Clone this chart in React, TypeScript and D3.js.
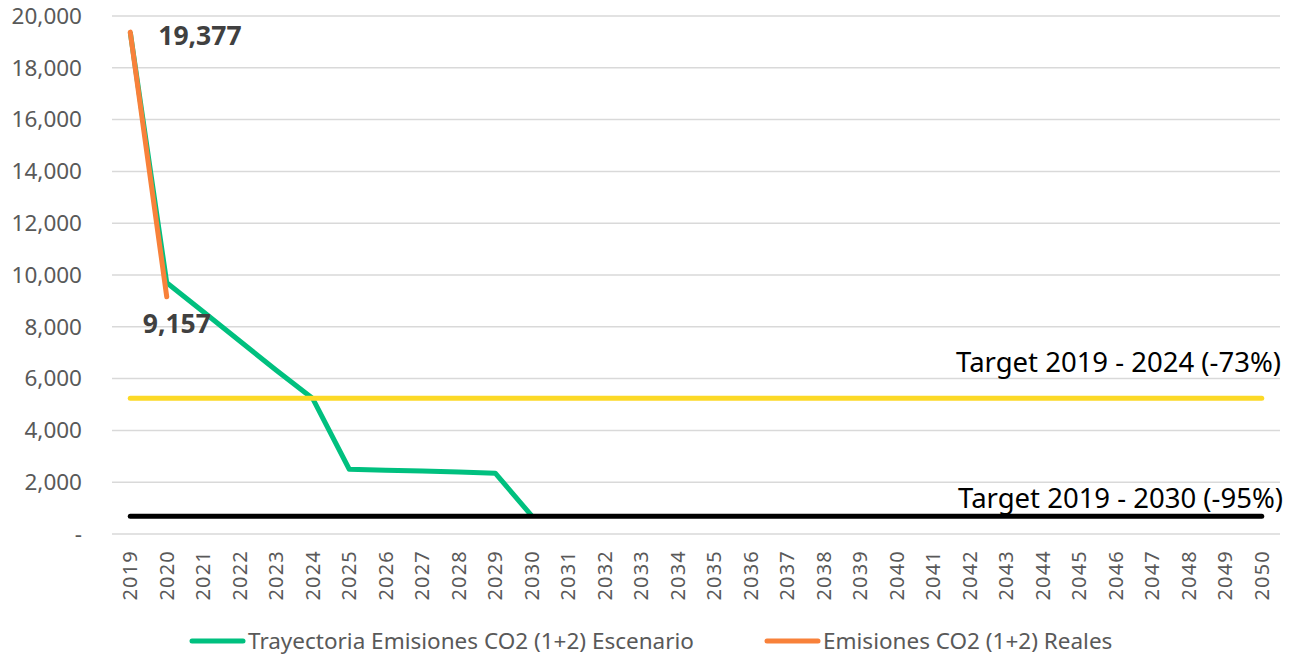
import React from 'react';
import * as d3 from 'd3';

const years = d3.range(2019, 2051).map(String);
const yTicks = [0, 2000, 4000, 6000, 8000, 10000, 12000, 14000, 16000, 18000, 20000];

// scenario trajectory (green)
const scenarioYears = ['2019', '2020', '2021', '2022', '2023', '2024', '2025', '2026', '2027', '2028', '2029', '2030'];
const scenarioValues = [19377, 9700, 8580, 7450, 6320, 5230, 2500, 2460, 2430, 2390, 2350, 700];

// real emissions (orange)
const realYears = ['2019', '2020'];
const realValues = [19377, 9157];

// targets
const target2024 = 5240;
const target2030 = 690;
const targetLabels = ['Target 2019 - 2024 (-73%)', 'Target 2019 - 2030 (-95%)'];

const legendLabels = ['Trayectoria Emisiones CO2 (1+2) Escenario', 'Emisiones CO2 (1+2) Reales'];

const GREEN = '#00c07f';
const ORANGE = '#f8813a';
const YELLOW = '#fcd926';
const FONT = '"Noto Sans", "Open Sans", sans-serif';

export default function App() {
  const width = 1296;
  const height = 656;
  const margin = { top: 16, right: 16, bottom: 122, left: 112 };
  const plotW = width - margin.left - margin.right;

  const x = d3.scaleBand().domain(years).range([margin.left, margin.left + plotW]);
  const cx = (d: string) => (x(d) as number) + x.bandwidth() / 2;
  const y = d3.scaleLinear().domain([0, 20000]).range([534, 16]);

  const line = d3.line<[string, number]>().x(d => cx(d[0])).y(d => y(d[1]));
  const scenario = scenarioYears.map((d, i) => [d, scenarioValues[i]] as [string, number]);
  const real = realYears.map((d, i) => [d, realValues[i]] as [string, number]);
  const fmt = d3.format(',');

  const x0 = cx(years[0]);
  const x1 = cx(years[years.length - 1]);

  return (
    <svg width={width} height={height} style={{ position: 'absolute', left: 0, top: 0, background: '#fff' }} fontFamily={FONT}>
      {yTicks.map(t => (
        <g key={t}>
          <line x1={margin.left} x2={margin.left + plotW} y1={y(t)} y2={y(t)} stroke="#d9d9d9" strokeWidth={1.5} />
          <text x={82} y={y(t)} dy="0.35em" textAnchor="end" fontSize={22.5} fill="#595959">
            {t === 0 ? '-' : fmt(t)}
          </text>
        </g>
      ))}
      {years.map(yr => (
        <text key={yr} transform={`translate(${cx(yr)},550) rotate(-90)`} dy="0.35em" textAnchor="end"
          fontSize={20} letterSpacing={1.2} fill="#595959">{yr}</text>
      ))}

      <path d={line(scenario) as string} fill="none" stroke={GREEN} strokeWidth={5} strokeLinejoin="round" />
      <line x1={x0} x2={x1} y1={y(target2024)} y2={y(target2024)} stroke={YELLOW} strokeWidth={5} strokeLinecap="round" />
      <line x1={x0} x2={x1} y1={y(target2030)} y2={y(target2030)} stroke="#000" strokeWidth={5} strokeLinecap="round" />
      <path d={line(real) as string} fill="none" stroke={ORANGE} strokeWidth={5} strokeLinecap="round" strokeLinejoin="round" />

      <text x={cx(realYears[0]) + 28} y={y(realValues[0]) + 13} fontSize={26.5} fontWeight="bold" fill="#404040">{fmt(realValues[0])}</text>
      <text x={cx(realYears[1]) - 24} y={y(realValues[1]) + 36} fontSize={26.5} fontWeight="bold" fill="#404040">{fmt(realValues[1])}</text>

      <text x={1281} y={y(target2024) - 26} textAnchor="end" fontSize={27.5} fill="#000">{targetLabels[0]}</text>
      <text x={1283} y={y(target2030) - 8} textAnchor="end" fontSize={27.5} fill="#000">{targetLabels[1]}</text>

      <g>
        <line x1={192} x2={243} y1={641} y2={641} stroke={GREEN} strokeWidth={5} strokeLinecap="round" />
        <text x={248} y={641} dy="0.35em" fontSize={22.5} fill="#595959">{legendLabels[0]}</text>
        <line x1={767} x2={818} y1={641} y2={641} stroke={ORANGE} strokeWidth={5} strokeLinecap="round" />
        <text x={823} y={641} dy="0.35em" fontSize={22.5} fill="#595959">{legendLabels[1]}</text>
      </g>
    </svg>
  );
}
